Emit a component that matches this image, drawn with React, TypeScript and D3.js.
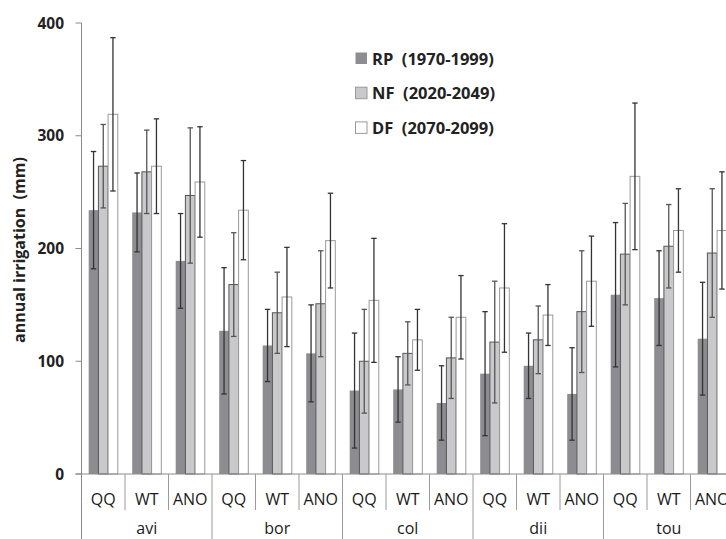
import React from "react";
import * as d3 from "d3";

const sites = ["avi", "bor", "col", "dii", "tou"];
const methods = ["QQ", "WT", "ANO"];
const seriesNames = ["RP", "NF", "DF"];
const seriesLabels = ["RP\u00a0\u00a0(1970-1999)", "NF\u00a0\u00a0(2020-2049)", "DF\u00a0\u00a0(2070-2099)"];
const yTitle = "annual irrigation\u00a0\u00a0(mm)";

// values per (site, method) in order avi QQ, avi WT, avi ANO, bor QQ, ...
const rpValues = [234, 232, 189, 127, 114, 107, 74, 75, 63, 89, 96, 71, 159, 156, 120];
const rpErr = [52, 35, 42, 56, 32, 43, 51, 29, 33, 55, 29, 41, 64, 42, 50];
const nfValues = [273, 268, 247, 168, 143, 151, 100, 107, 103, 117, 119, 144, 195, 202, 196];
const nfErr = [37, 37, 60, 46, 36, 47, 46, 28, 36, 54, 30, 54, 45, 37, 57];
const dfValues = [319, 273, 259, 234, 157, 207, 154, 119, 139, 165, 141, 171, 264, 216, 216];
const dfErr = [68, 42, 49, 44, 44, 42, 55, 27, 37, 57, 27, 40, 65, 37, 52];
const yTicks = [0, 100, 200, 300, 400];

const W = 726;
const H = 539;
const FONT = "'Open Sans', 'Noto Sans', sans-serif";

export default function App() {
  const keys: string[] = [];
  sites.forEach((s) => methods.forEach((m) => keys.push(s + "|" + m)));
  const x = d3.scaleBand<string>().domain(keys).range([81.5, 81.5 + 43.5 * keys.length]).padding(0);
  const bw = x.bandwidth();
  const barW = 9.7;
  const inner = d3
    .scaleBand<string>()
    .domain(seriesNames)
    .range([(bw - barW * 3) / 2, (bw + barW * 3) / 2])
    .padding(0);
  const y = d3.scaleLinear().domain([0, 400]).range([474, 23]);

  const series = [
    { name: "RP", values: rpValues, err: rpErr, fill: "#8d8d91", stroke: "none", ebar: "#333" },
    { name: "NF", values: nfValues, err: nfErr, fill: "#c9c9cb", stroke: "#555", ebar: "#555" },
    { name: "DF", values: dfValues, err: dfErr, fill: "#ffffff", stroke: "#9a9a9a", ebar: "#333" },
  ];
  const x0 = 81.5;
  const axisY = y(0);

  return (
    <svg width={W} height={H} style={{ position: "absolute", left: 0, top: 0, background: "#fff" }} fontFamily={FONT}>
      <rect x={0} y={0} width={W} height={H} fill="#fff" />
      {/* bars */}
      {series.map((s) =>
        keys.map((k, i) => {
          const bx = (x(k) as number) + (inner(s.name) as number);
          const v = s.values[i];
          return (
            <rect
              key={s.name + k}
              x={bx}
              y={y(v)}
              width={barW}
              height={axisY - y(v)}
              fill={s.fill}
              stroke={s.stroke}
              strokeWidth={1}
            />
          );
        })
      )}
      {/* error bars */}
      {series.map((s) =>
        keys.map((k, i) => {
          const cx = (x(k) as number) + (inner(s.name) as number) + barW / 2;
          const v = s.values[i];
          const e = s.err[i];
          const yt = y(v + e);
          const yb = y(v - e);
          return (
            <g key={"e" + s.name + k} stroke={s.ebar} strokeWidth={1.3}>
              <line x1={cx} x2={cx} y1={yt} y2={yb} />
              <line x1={cx - 2.7} x2={cx + 2.7} y1={yt} y2={yt} />
              <line x1={cx - 2.7} x2={cx + 2.7} y1={yb} y2={yb} />
            </g>
          );
        })
      )}
      {/* y axis */}
      <line x1={x0} x2={x0} y1={y(400)} y2={H} stroke="#8a8a8a" strokeWidth={1} />
      {yTicks.map((t) => (
        <g key={"t" + t}>
          <line x1={x0 - 6} x2={x0} y1={y(t)} y2={y(t)} stroke="#8a8a8a" />
          <text x={64} y={y(t) + 5.5} textAnchor="end" fontSize={15.5} fontWeight="bold" fill="#222">
            {t}
          </text>
        </g>
      ))}
      {/* x axis */}
      <line x1={x0 - 6} x2={W} y1={axisY} y2={axisY} stroke="#8a8a8a" strokeWidth={1} />
      {keys.map((k, i) => {
        const right = (x(k) as number) + bw;
        const isGroupEnd = (i + 1) % methods.length === 0;
        return (
          <line
            key={"sep" + k}
            x1={right}
            x2={right}
            y1={axisY}
            y2={isGroupEnd ? H : 510}
            stroke="#9a9a9a"
            strokeWidth={1}
          />
        );
      })}
      {keys.map((k) => (
        <text
          key={"l" + k}
          x={(x(k) as number) + bw / 2}
          y={504.5}
          textAnchor="middle"
          fontSize={16}
          fill="#1a1a1a"
        >
          {k.split("|")[1]}
        </text>
      ))}
      {sites.map((s) => {
        const first = x(s + "|" + methods[0]) as number;
        const cx = first + (bw * methods.length) / 2;
        return (
          <text key={"g" + s} x={cx} y={534} textAnchor="middle" fontSize={16} fill="#1a1a1a">
            {s}
          </text>
        );
      })}
      {/* y title */}
      <text
        transform={`translate(25,250) rotate(-90)`}
        textAnchor="middle"
        fontSize={16}
        fontWeight="bold"
        fill="#222"
      >
        {yTitle}
      </text>
      {/* legend */}
      {series.map((s, i) => (
        <g key={"leg" + s.name}>
          <rect
            x={355.5}
            y={52.5 + i * 34.7}
            width={11.5}
            height={11.5}
            fill={s.fill}
            stroke={s.name === "RP" ? "none" : "#999"}
          />
          <text x={372} y={64.5 + i * 34.7} fontSize={16.5} fontWeight="bold" fill="#222">
            {seriesLabels[i]}
          </text>
        </g>
      ))}
    </svg>
  );
}
